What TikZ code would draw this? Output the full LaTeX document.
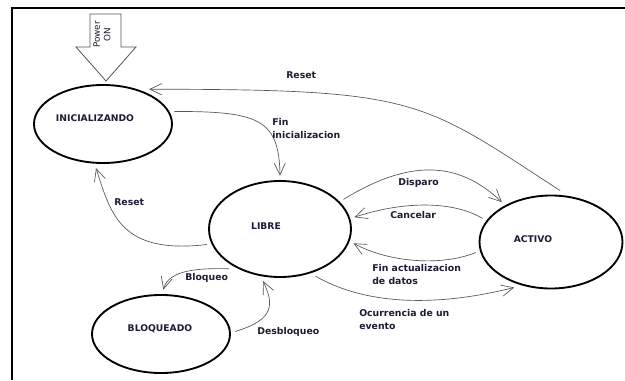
\documentclass[tikz,border=0pt]{standalone}
\usepackage{fontspec}
\setsansfont{DejaVu Sans}
\usetikzlibrary{shapes.geometric,arrows.meta}
\definecolor{lblcol}{RGB}{28,28,52}
\definecolor{linecol}{RGB}{85,85,85}

\begin{document}
\begin{tikzpicture}[x=0.75pt,y=0.75pt]
\tikzset{state/.style={draw,ellipse,line width=1.4pt,inner sep=0pt,outer sep=4pt}}
\tikzset{statetxt/.style={inner sep=0pt,font=\sffamily\bfseries\fontsize{6.9}{8}\selectfont,text=lblcol}}
\tikzset{trans/.style={draw=linecol,line width=0.5pt,-{Straight Barb[length=9pt,width=8.5pt]}}}
\tikzset{lbl/.style={anchor=west,align=left,inner sep=0pt,font=\sffamily\bfseries\fontsize{7}{9.75}\selectfont,text=lblcol}}
\useasboundingbox (0,0) rectangle (625,380);
\fill[white] (0,0) rectangle (625,380);
\draw[line width=1.5pt] (625,372) -- (12,372) -- (12,0);

\draw[draw=linecol,line width=0.6pt] (90,366) -- (121,366) -- (121,333) -- (136,333) -- (106,299) -- (76,333) -- (90,333) -- cycle;
\node[rotate=90,align=center,inner sep=0pt,font=\sffamily\fontsize{6.6}{8}\selectfont,text=lblcol] (power) at (102,345.5) {Power\\ON};

\node[state,minimum width=103.5pt,minimum height=58.5pt,label={[statetxt,xshift=-6pt,yshift=4.5pt]center:INICIALIZANDO}] (inic) at (103,256) {};
\node[state,minimum width=106.5pt,minimum height=72pt,label={[statetxt,xshift=-10.5pt,yshift=2.25pt]center:LIBRE}] (libre) at (280,151) {};
\node[state,minimum width=107.25pt,minimum height=69.75pt,label={[statetxt,xshift=-13.5pt,yshift=2.25pt]center:ACTIVO}] (activo) at (551,138) {};
\node[state,minimum width=103.5pt,minimum height=58.5pt,label={[statetxt,xshift=-0.75pt,yshift=3.75pt]center:BLOQUEADO}] (bloq) at (161,46) {};

\draw[trans] (activo.80) .. controls +(-140,91) and +(270,0) .. (inic.37);
\draw[trans] (inic.10) .. controls +(84,0) and +(-1,57) .. (libre.90);
\draw[trans] (libre.192) .. controls +(-86,-10) and +(15,-47) .. (inic.261);
\draw[trans] (libre.25) .. controls +(65,40) and +(-44,42) .. (activo.141);
\draw[trans] (activo.161) .. controls +(-32,19) and +(45,15) .. (libre.9);
\draw[trans] (activo.188) .. controls +(-35,-14) and +(35,-19) .. (libre.-11);
\draw[trans] (libre.-53) .. controls +(54,-31) and +(-72,-18) .. (activo.231);
\draw[trans] (libre.218) .. controls +(-37,1) and +(5,18) .. (bloq.87);
\draw[trans] (bloq.2) .. controls +(41,12) and +(10,-22) .. (libre.252);

\node[lbl] (resettop) at (286,305) {Reset};
\node[lbl] (fininic) at (272,251.5) {Fin\\inicializacion};
\node[lbl] (resetleft) at (114,178) {Reset};
\node[lbl] (disparo) at (398,197) {Disparo};
\node[lbl] (cancelar) at (390,165) {Cancelar};
\node[lbl] (finact) at (372,105.5) {Fin actualizacion\\de datos};
\node[lbl] (ocurr) at (359,60.5) {Ocurrencia de un\\evento};
\node[lbl] (bloqueo) at (185,102) {Bloqueo};
\node[lbl] (desbloq) at (257,48) {Desbloqueo};
\end{tikzpicture}
\end{document}
